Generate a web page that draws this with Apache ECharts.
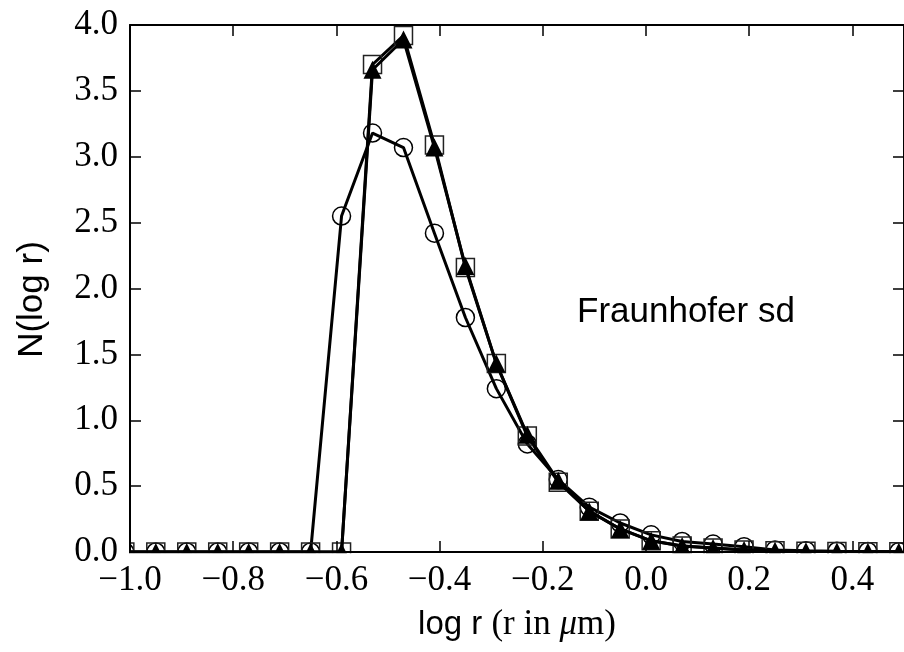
<!DOCTYPE html>
<html><head><meta charset="utf-8">
<script src="https://cdn.jsdelivr.net/npm/echarts@6/dist/echarts.min.js"></script>
<style>html,body{margin:0;padding:0;background:#fff}#c{width:904px;height:652px}</style>
</head><body><div id="c"></div>
<script>
// log r positions (x)
const logR = [-1.01, -0.95, -0.89, -0.83, -0.77, -0.71, -0.65, -0.59, -0.53, -0.47,
              -0.41, -0.35, -0.29, -0.23, -0.17, -0.11, -0.05, 0.01, 0.07, 0.13,
              0.19, 0.25, 0.31, 0.37, 0.43, 0.49];
// open circles
const circleVals = [0, 0, 0, 0, 0, 0, 0, 2.55, 3.18, 3.07,
                    2.42, 1.78, 1.24, 0.82, 0.55, 0.34, 0.22, 0.13, 0.08, 0.06,
                    0.04, 0.015, 0.01, 0.006, 0.004, 0.002];
// open squares
const squareVals = [0, 0, 0, 0, 0, 0, 0, 0, 3.70, 3.92,
                    3.09, 2.16, 1.43, 0.88, 0.53, 0.31, 0.175, 0.085, 0.045, 0.03,
                    0.015, 0.01, 0.005, 0.003, 0.002, 0.001];
// filled triangles
const triangleVals = [0, 0, 0, 0, 0, 0, 0, 0, 3.66, 3.89,
                      3.07, 2.17, 1.43, 0.89, 0.54, 0.31, 0.175, 0.085, 0.045, 0.03,
                      0.015, 0.01, 0.005, 0.003, 0.002, 0.001];
const annotation = 'Fraunhofer sd';
const yName = 'N(log r)';

const chart = echarts.init(document.getElementById('c'), null, {renderer: 'canvas'});
const serif = 'Liberation Serif';
const sans = 'Liberation Sans';
const fmtX = v => (Math.abs(v) < 1e-9 ? '0.0' : v.toFixed(1).replace('-', '\u2212'));
const fmtY = v => v.toFixed(1);
const pair = arr => logR.map((x, i) => [x, arr[i]]);

const axisLineStyle = {color: '#000', width: 2};
const tickStyle = {inside: true, length: 11, lineStyle: {color: '#000', width: 1.5}};

const GRID = {left: 130, top: 25, right: -1.5, bottom: 100};

chart.setOption({
  animation: false,
  backgroundColor: '#fff',
  grid: Object.assign({containLabel: false}, GRID),
  xAxis: [{
    type: 'value', min: -1.0, max: 0.5, interval: 0.2, position: 'bottom', z: 100,
    axisLine: {onZero: false, lineStyle: axisLineStyle}, axisTick: tickStyle,
    splitLine: {show: false},
    axisLabel: {formatter: fmtX, fontFamily: serif, fontSize: 35, color: '#000', margin: 11, showMaxLabel: false},
    name: '{a|log r\u00a0}{b|(r in }{c|\u03bc}{b|m)}',
    nameLocation: 'middle', nameGap: 55,
    nameTextStyle: {rich: {
      a: {fontFamily: sans, fontSize: 33, color: '#000'},
      b: {fontFamily: serif, fontSize: 35, color: '#000'},
      c: {fontFamily: serif, fontSize: 35, fontStyle: 'italic', color: '#000'}
    }}
  }, {
    type: 'value', min: -1.0, max: 0.5, interval: 0.2, position: 'top', z: 100,
    axisLine: {onZero: false, lineStyle: axisLineStyle}, axisTick: tickStyle,
    splitLine: {show: false}, axisLabel: {show: false}
  }],
  yAxis: [{
    type: 'value', min: 0, max: 4, interval: 0.5, position: 'left', z: 100,
    axisLine: {onZero: false, lineStyle: axisLineStyle}, axisTick: tickStyle,
    splitLine: {show: false},
    axisLabel: {formatter: fmtY, fontFamily: serif, fontSize: 35, color: '#000', margin: 12},
    name: yName, nameLocation: 'middle', nameGap: 80,
    nameTextStyle: {fontFamily: sans, fontSize: 35, color: '#000', padding: [0, 22, 0, 0]}
  }, {
    type: 'value', min: 0, max: 4, interval: 0.5, position: 'right', z: 100,
    axisLine: {onZero: false, lineStyle: axisLineStyle}, axisTick: tickStyle,
    splitLine: {show: false}, axisLabel: {show: false}
  }],
  series: [{
    type: 'line', data: pair(circleVals), clip: false, z: 2,
    symbol: 'circle', symbolSize: 18, showAllSymbol: true,
    lineStyle: {color: '#000', width: 3},
    itemStyle: {color: 'rgba(0,0,0,0)', borderColor: '#000', borderWidth: 1.5}
  }, {
    type: 'line', data: pair(squareVals), clip: false, z: 3,
    symbol: 'rect', symbolSize: 18, showAllSymbol: true,
    lineStyle: {color: '#000', width: 3},
    itemStyle: {color: 'rgba(0,0,0,0)', borderColor: '#222', borderWidth: 1.5}
  }, {
    type: 'line', data: pair(triangleVals), clip: false, z: 4,
    symbol: 'triangle', symbolSize: 18, showAllSymbol: true,
    lineStyle: {color: '#000', width: 3},
    itemStyle: {color: '#000', borderColor: '#000', borderWidth: 0}
  }],
  graphic: [
    // white masks emulating marker clipping at the axes boundary
    {type: 'rect', z: 50, silent: true, shape: {x: 0, y: 652 - GRID.bottom + 1.2, width: 904, height: 10}, style: {fill: '#fff'}},
    {type: 'rect', z: 50, silent: true, shape: {x: GRID.left - 16, y: 0, width: 15, height: 652 - GRID.bottom + 11}, style: {fill: '#fff'}},
    {type: 'text', z: 60, left: 577, top: 295, style: {text: annotation, fontFamily: sans, fontSize: 35, fill: '#000'}}
  ]
});
</script>
</body></html>
